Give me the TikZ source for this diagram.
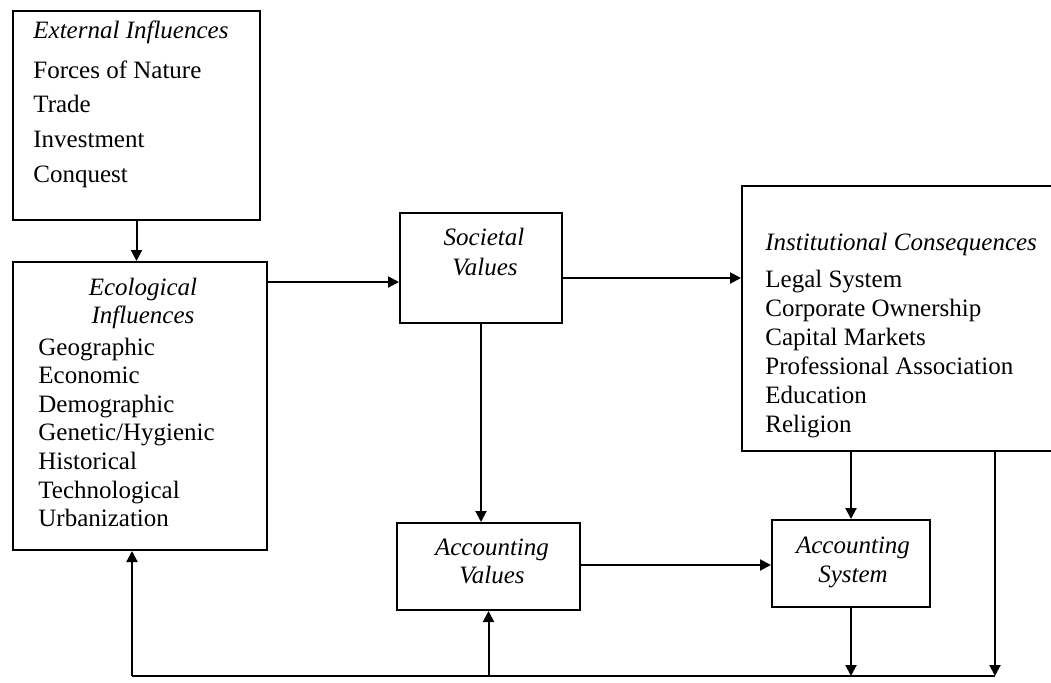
\documentclass[tikz,border=0pt]{standalone}
\usepackage{fontspec}
\setmainfont{Liberation Serif}
\usetikzlibrary{arrows.meta,fit}
\begin{document}
\begin{tikzpicture}[x=0.5pt,y=-0.5pt,
  box/.style={draw,line width=1pt,inner sep=0pt},
  arr/.style={line width=1pt,-{Triangle[length=5.5pt,width=5.5pt]}},
  conn/.style={line width=1pt},
  txt/.style={anchor=base west,inner sep=0pt,font=\fontsize{12.5}{15}\selectfont},
  ttl/.style={txt,font=\fontsize{12.5}{15}\selectfont\itshape},
  ctr/.style={anchor=base,inner sep=0pt,font=\fontsize{12.5}{15}\selectfont\itshape}]
\useasboundingbox (0,0) rectangle (1051,682);

% boxes
\node[box,fit={(13,11) (260,220)}] (ext) {};
\node[box,fit={(13,262) (267,550)}] (eco) {};
\node[box,fit={(400,213) (562,323)}] (soc) {};
\node[box,fit={(742,186) (1075,451)}] (inst) {};
\node[box,fit={(397,523) (580,610)}] (av) {};
\node[box,fit={(772,520) (930,607)}] (as) {};

% External Influences
\node[ttl] (ext-t) at (33,38) {External Influences};
\foreach \t [count=\i] in {Forces of Nature,Trade,Investment,Conquest}
  \node[txt] (ext-\i) at (33,{78+34.7*(\i-1)}) {\t};

% Ecological Influences
\node[ctr] (eco-t1) at (143,295) {Ecological};
\node[ctr] (eco-t2) at (143,323) {Influences};
\foreach \t [count=\i] in {Geographic,Economic,Demographic,Genetic/Hygienic,Historical,Technological,Urbanization}
  \node[txt] (eco-\i) at (38,{355+28.6*(\i-1)}) {\t};

% Societal Values
\node[ctr] (soc-t1) at (484,245) {Societal};
\node[ctr] (soc-t2) at (485,275) {Values};

% Institutional Consequences
\node[ttl] (inst-t) at (765,250) {Institutional Consequences};
\foreach \t [count=\i] in {Legal System,Corporate Ownership,Capital Markets,Professional Association,Education,Religion}
  \node[txt] (inst-\i) at (765,{287+29*(\i-1)}) {\t};

% Accounting Values
\node[ctr] (av-t1) at (492,555) {Accounting};
\node[ctr] (av-t2) at (492,583) {Values};

% Accounting System
\node[ctr] (as-t1) at (853,553) {Accounting};
\node[ctr] (as-t2) at (853,582) {System};

% feedback line
\coordinate (fbL) at (132,676);
\coordinate (fbR) at (995,676);
\coordinate (h1) at (0,282);
\coordinate (h2) at (0,278);
\coordinate (h3) at (0,565);

% connectors
\draw[arr] (ext.south) -- (ext.south |- eco.north);
\draw[arr] (eco.east |- h1) -- (soc.west |- h1);
\draw[arr] (soc.east |- h2) -- (inst.west |- h2);
\draw[arr] (soc.south) -- (soc.south |- av.north);
\draw[arr] (av.east |- h3) -- (as.west |- h3);
\draw[arr] (inst.south -| as.north) -- (as.north);
\draw[conn] (fbL) -- (fbR);
\draw[arr] (inst.south -| fbR) -- (fbR);
\draw[arr] (as.south) -- (as.south |- fbR);
\draw[arr] (av.south |- fbL) -- (av.south);
\draw[arr] (fbL) -- (fbL |- eco.south);
\end{tikzpicture}
\end{document}
